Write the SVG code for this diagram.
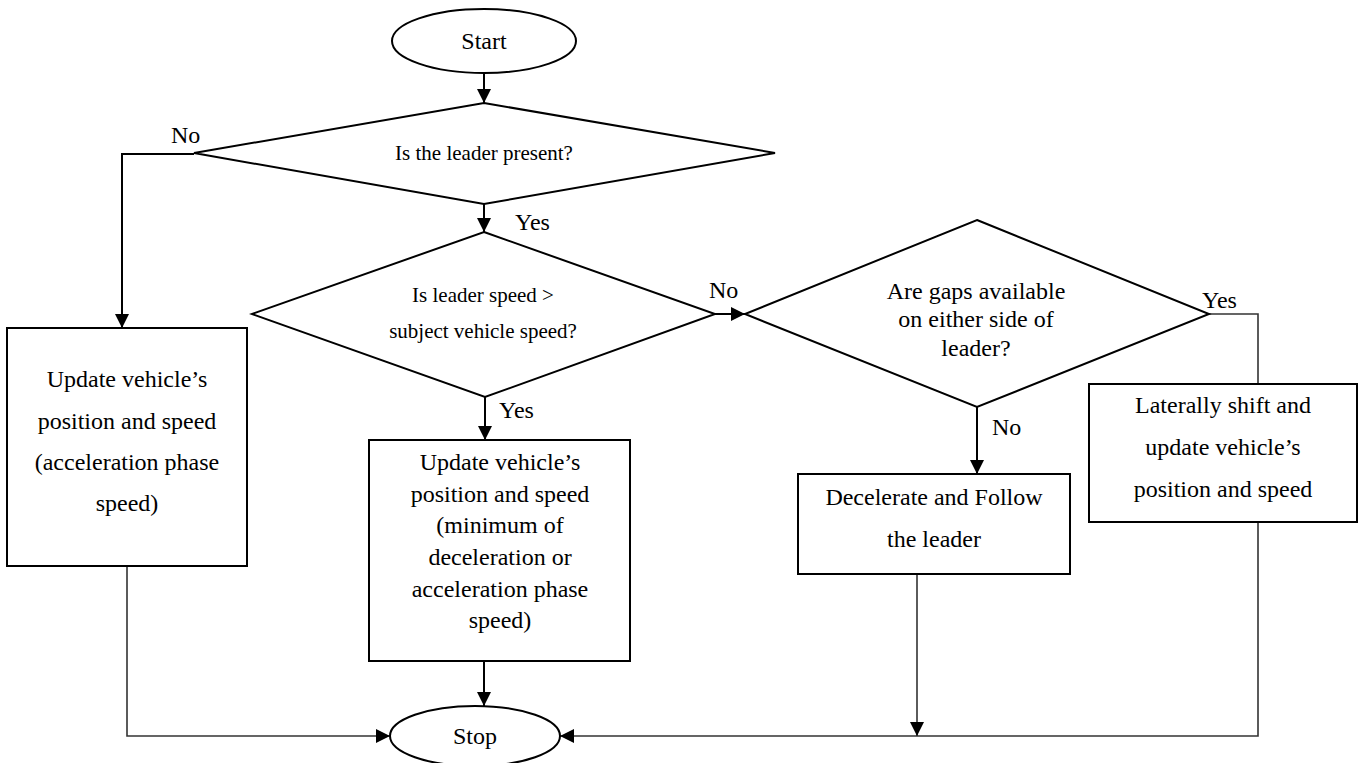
<svg xmlns="http://www.w3.org/2000/svg" width="1365" height="763" viewBox="0 0 1365 763">
  <style>
    .shape { fill: #ffffff; stroke: #000000; stroke-width: 2; }
    .link { fill: none; stroke: #000000; stroke-width: 2; }
    .link-thin { fill: none; stroke: #333333; stroke-width: 1.6; }
    text { font-family: "Liberation Serif", "Times New Roman", serif; fill: #000000; }
    .t24 { font-size: 24px; text-anchor: middle; }
    .t21 { font-size: 21px; text-anchor: middle; }
    .lbl { font-size: 24px; }
  </style>
  <defs>
    <marker id="arrow" viewBox="0 0 14 14" refX="14" refY="7" markerWidth="14" markerHeight="14" markerUnits="userSpaceOnUse" orient="auto">
      <path d="M0,0 L14,7 L0,14 z" fill="#000000"/>
    </marker>
  </defs>

  <!-- connectors -->
  <g id="connectors">
    <line class="link" x1="484" y1="73" x2="484" y2="103" marker-end="url(#arrow)"/>
    <line class="link" x1="484" y1="204" x2="484" y2="232" marker-end="url(#arrow)"/>
    <polyline class="link" points="194,154 122,154 122,328" marker-end="url(#arrow)"/>
    <line class="link" x1="485" y1="397" x2="485" y2="440" marker-end="url(#arrow)"/>
    <line class="link" x1="715" y1="314" x2="745" y2="314" marker-end="url(#arrow)"/>
    <line class="link" x1="977" y1="407" x2="977" y2="474" marker-end="url(#arrow)"/>
    <polyline class="link-thin" points="1209,314 1258,314 1258,384"/>
    <line class="link" x1="484" y1="661" x2="484" y2="706" marker-end="url(#arrow)"/>
    <polyline class="link-thin" points="127,566 127,736 390,736" marker-end="url(#arrow)"/>
    <polyline class="link-thin" points="1258,522 1258,736 560,736" marker-end="url(#arrow)"/>
    <line class="link-thin" x1="917" y1="574" x2="917" y2="736" marker-end="url(#arrow)"/>
  </g>

  <!-- branch labels -->
  <g id="labels">
    <text class="lbl" x="171" y="143">No</text>
    <text class="lbl" x="515" y="230">Yes</text>
    <text class="lbl" x="709" y="298">No</text>
    <text class="lbl" x="499" y="418">Yes</text>
    <text class="lbl" x="992" y="435">No</text>
    <text class="lbl" x="1202" y="308">Yes</text>
  </g>

  <g id="start">
    <ellipse class="shape" cx="484" cy="41" rx="92" ry="32"/>
    <text class="t24" x="484" y="49">Start</text>
  </g>

  <g id="leader-present">
    <polygon class="shape" points="484,103 775,153 484,204 194,153"/>
    <text class="t21" x="484" y="160">Is the leader present?</text>
  </g>

  <g id="leader-faster">
    <polygon class="shape" points="484,232 715,314 485,397 252,314"/>
    <text class="t21" x="483" y="302">Is leader speed &gt;</text>
    <text class="t21" x="483" y="338">subject vehicle speed?</text>
  </g>

  <g id="gaps-available">
    <polygon class="shape" points="977,220 1209,314 977,407 745,314"/>
    <text class="t24" x="976" y="299">Are gaps available</text>
    <text class="t24" x="976" y="327">on either side of</text>
    <text class="t24" x="976" y="356">leader?</text>
  </g>

  <g id="update-accel">
    <rect class="shape" x="7" y="328" width="240" height="238"/>
    <text class="t24" x="127" y="387">Update vehicle’s</text>
    <text class="t24" x="127" y="429">position and speed</text>
    <text class="t24" x="127" y="470">(acceleration phase</text>
    <text class="t24" x="127" y="511">speed)</text>
  </g>

  <g id="update-min">
    <rect class="shape" x="369" y="440" width="261" height="221"/>
    <text class="t24" x="500" y="470">Update vehicle’s</text>
    <text class="t24" x="500" y="502">position and speed</text>
    <text class="t24" x="500" y="533">(minimum of</text>
    <text class="t24" x="500" y="565">deceleration or</text>
    <text class="t24" x="500" y="597">acceleration phase</text>
    <text class="t24" x="500" y="628">speed)</text>
  </g>

  <g id="decelerate">
    <rect class="shape" x="798" y="474" width="272" height="100"/>
    <text class="t24" x="934" y="505">Decelerate and Follow</text>
    <text class="t24" x="934" y="547">the leader</text>
  </g>

  <g id="lateral-shift">
    <rect class="shape" x="1089" y="384" width="268" height="138"/>
    <text class="t24" x="1223" y="413">Laterally shift and</text>
    <text class="t24" x="1223" y="455">update vehicle’s</text>
    <text class="t24" x="1223" y="497">position and speed</text>
  </g>

  <g id="stop">
    <ellipse class="shape" cx="475" cy="736" rx="85" ry="30"/>
    <text class="t24" x="475" y="744">Stop</text>
  </g>
</svg>
